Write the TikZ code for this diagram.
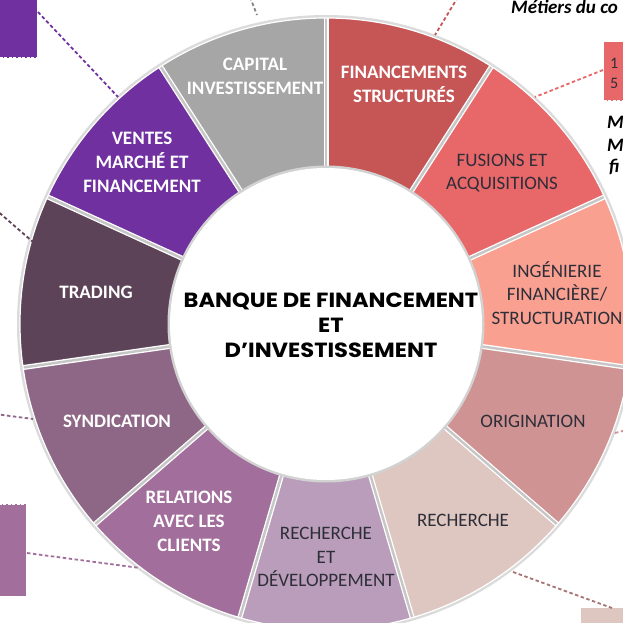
\documentclass[tikz,border=0pt]{standalone}
\usepackage{fontspec}
\setmainfont{Carlito}
\newfontfamily\ctrfont{Poppins}[FakeStretch=1.1]
\definecolor{capital}{HTML}{A6A6A6}
\definecolor{ventes}{HTML}{7030A0}
\definecolor{trading}{HTML}{5D4358}
\definecolor{syndication}{HTML}{8E6686}
\definecolor{relations}{HTML}{A26E9B}
\definecolor{rd}{HTML}{BA9DBA}
\definecolor{recherche}{HTML}{DEC7C1}
\definecolor{origination}{HTML}{D09393}
\definecolor{ingenierie}{HTML}{F9A091}
\definecolor{fusions}{HTML}{E8686A}
\definecolor{financements}{HTML}{C65656}
\definecolor{darktxt}{HTML}{2E2E38}
\tikzset{
  wt/.style={font=\fontsize{19}{24}\selectfont\bfseries, text=white, align=center, inner sep=0pt},
  dk/.style={font=\fontsize{19}{23.5}\selectfont, text=darktxt, align=center, inner sep=0pt},
  dashlink/.style={line width=1.8pt, dash pattern=on 3.5pt off 2.5pt},
  callbox/.style={draw=white, line width=1.2pt, dash pattern=on 3pt off 1.5pt},
  side/.style={font=\fontsize{19}{23}\selectfont\bfseries\itshape, text=black, anchor=west, inner sep=0pt},
}
\begin{document}
\begin{tikzpicture}[x=1pt,y=1pt]
\useasboundingbox (0,0) rectangle (623,622);
\clip (0,0) rectangle (623,622);
\coordinate (C) at (326,298);
% outer shadow
\fill[gray!28] (C) circle[radius=309pt];
% wedges
\foreach \col [count=\i from 0] in {capital,ventes,trading,syndication,relations,rd,recherche,origination,ingenierie,fusions,financements} {
  \pgfmathsetmacro\a{90+\i*360/11}
  \pgfmathsetmacro\b{90+(\i+1)*360/11}
  \fill[\col, shift={(C)}] (\a:306pt) arc[start angle=\a, end angle=\b, radius=306pt]
     -- (\b:157pt) arc[start angle=\b, end angle=\a, radius=157pt] -- cycle;
}
% separators
\foreach \i in {0,...,10} {
  \pgfmathsetmacro\a{90+\i*360/11}
  \draw[white, line width=5pt, shift={(C)}] (\a:150pt) -- (\a:306pt);
  \draw[gray!45, line width=2.4pt, shift={(C)}] (\a:150pt) -- (\a:306pt);
}
\draw[white, line width=1.2pt] (C) circle[radius=306pt];
% inner hole
\fill[gray!35] (C) circle[radius=158.5pt];
\fill[white] (C) circle[radius=156pt];

% segment labels
\node[wt] (capital) at (255,546) {CAPITAL\\INVESTISSEMENT};
\node[wt] (financements) at (404,538) {FINANCEMENTS\\STRUCTURÉS};
\node[dk] (fusions) at (502,449) {FUSIONS ET\\ACQUISITIONS};
\node[dk] (ingenierie) at (557,329) {INGÉNIERIE\\FINANCIÈRE/\\STRUCTURATION};
\node[dk] (origination) at (533,201) {ORIGINATION};
\node[dk] (recherche) at (463,102) {RECHERCHE};
\node[dk] (rd) at (326,65) {RECHERCHE\\ET\\DÉVELOPPEMENT};
\node[wt] (relations) at (189,101) {RELATIONS\\AVEC LES\\CLIENTS};
\node[wt] (syndication) at (117,201) {SYNDICATION};
\node[wt] (trading) at (96,330) {TRADING};
\node[wt] (ventes) at (142,460) {VENTES\\MARCHÉ ET\\FINANCEMENT};

% centre
\node[font=\ctrfont\bfseries\fontsize{20.5}{25}\selectfont, align=center, text=black] (centre) at (331,297)
  {BANQUE DE FINANCEMENT\\ET\\D’INVESTISSEMENT};

% callout boxes
\node[callbox, fill=ventes, minimum width=60pt, minimum height=75pt, anchor=north east] (boxtl) at (38,640) {};
\node[callbox, fill=fusions, minimum width=40pt, minimum height=59pt, anchor=north west] (boxtr) at (603,581) {};
\node[callbox, fill=relations, minimum width=50pt, minimum height=92pt, anchor=south east] (boxbl) at (27,25) {};
\node[callbox, fill=recherche, minimum width=60pt, minimum height=40pt, anchor=north west] (boxbr) at (580,15) {};

\node[anchor=west, inner sep=0pt, font=\fontsize{16}{20}\selectfont, text=darktxt] (t1) at (610,559) {1};
\node[anchor=west, inner sep=0pt, font=\fontsize{16}{20}\selectfont, text=darktxt] (t5) at (610,539) {5};

% side texts
\node[side] (metiers) at (511,615) {Métiers du co};
\node[side] (m1) at (607,500) {M};
\node[side] (m2) at (607,477) {M};
\node[side] (m3) at (609,455) {fi};

% connectors
\coordinate (ventesE) at (118,525);
\coordinate (capE) at (257,607);
\coordinate (capS) at (250,625);
\coordinate (finE) at (435,587);
\coordinate (finS) at (458,625);
\coordinate (fusE) at (535,525);
\coordinate (origE) at (615,189);
\coordinate (origS) at (630,193);
\coordinate (rechE) at (513,50);
\coordinate (rechS) at (612,14);
\coordinate (tradE) at (33,380);
\coordinate (tradS) at (-5,413);
\coordinate (syndE) at (33,203);
\coordinate (syndS) at (-5,208);
\coordinate (relE) at (140,54);

\draw[dashlink, ventes] (boxtl.east |- 0,610) -- (ventesE);
\draw[dashlink, capital!80!black] (capS) -- (capE);
\draw[dashlink, financements] (finS) -- (finE);
\draw[dashlink, fusions] (boxtr.west |- 0,552) -- (fusE);
\draw[dashlink, origination] (origE) -- (origS);
\draw[dashlink, origination!80!black] (rechE) -- (rechS);
\draw[dashlink, trading] (tradS) -- (tradE);
\draw[dashlink, syndication] (syndS) -- (syndE);
\draw[dashlink, relations] (boxbl.east |- 0,69) -- (relE);
\end{tikzpicture}
\end{document}
